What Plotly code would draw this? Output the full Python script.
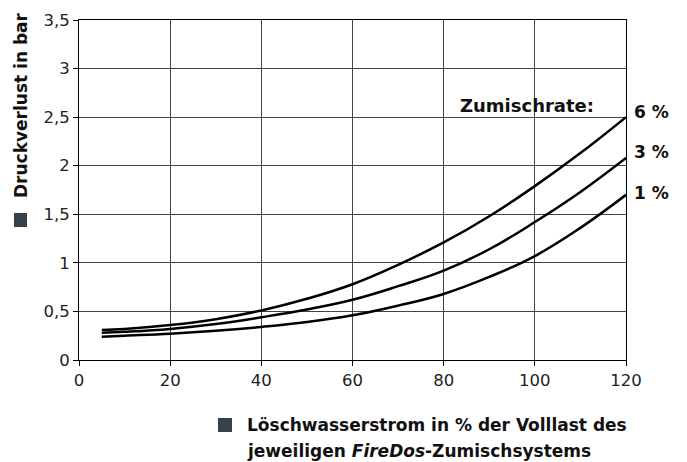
import plotly.graph_objects as go

# ---- data ----
x_flow = [5, 10, 20, 30, 40, 50, 60, 70, 80, 90, 100, 110, 120]
dp_6 = [0.31, 0.32, 0.36, 0.42, 0.51, 0.63, 0.78, 0.98, 1.21, 1.48, 1.79, 2.13, 2.50]
dp_3 = [0.28, 0.29, 0.32, 0.37, 0.44, 0.52, 0.62, 0.76, 0.92, 1.14, 1.42, 1.73, 2.08]
dp_1 = [0.24, 0.25, 0.27, 0.30, 0.34, 0.39, 0.46, 0.56, 0.68, 0.855, 1.07, 1.36, 1.70]
series_labels = ["6 %", "3 %", "1 %"]

x_ticks = [0, 20, 40, 60, 80, 100, 120]
y_ticks = [0, 0.5, 1, 1.5, 2, 2.5, 3, 3.5]
y_ticklabels = ["0", "0,5", "1", "1,5", "2", "2,5", "3", "3,5"]

legend_title = "Zumischrate:"
y_title = "Druckverlust in bar"
x_title_1 = "Löschwasserstrom in % der Volllast des"
x_title_2 = "jeweiligen <i>FireDos</i>-Zumischsystems"

# ---- layout geometry (page body has an 8px margin) ----
OFF = 8
W, H = 687 - OFF, 462 - OFF
# target plot area in window pixels: x 79..626, y 20..360
L, T = 79 - OFF, 20 - OFF
R = W - (626 - OFF)
B = H - (360 - OFF)
PW, PH = W - L - R, H - T - B
FONT = "DejaVu Sans"
SQ = "#36424a"

def px(xp):
    return (xp - OFF - L) / PW

def py(yp):
    return (T + PH - (yp - OFF)) / PH

fig = go.Figure()
for ys, lab in zip([dp_6, dp_3, dp_1], series_labels):
    fig.add_trace(go.Scatter(x=x_flow, y=ys, mode="lines", name=lab,
                             line=dict(color="black", width=2.5, shape="spline", smoothing=1.2),
                             hoverinfo="skip"))

axis_common = dict(showline=True, linecolor="black", linewidth=1, mirror=True,
                   showgrid=True, gridcolor="#444", gridwidth=1, zeroline=False,
                   ticks="outside", ticklen=5, tickcolor="black", ticklabeloverflow="allow",
                   automargin=False,
                   tickfont=dict(family=FONT, size=16.5, color="#222"))

fig.update_xaxes(range=[0, 120], tickvals=x_ticks, **axis_common)
fig.update_yaxes(range=[0, 3.5], tickvals=y_ticks, ticktext=y_ticklabels, **axis_common)

shapes = [
    dict(type="rect", xref="paper", yref="paper", x0=px(453), x1=px(599), y0=py(116), y1=py(89),
         fillcolor="white", line=dict(width=0), layer="between"),
    dict(type="rect", xref="paper", yref="paper", x0=px(14), x1=px(27), y0=py(227), y1=py(213),
         fillcolor=SQ, line=dict(width=0)),
    dict(type="rect", xref="paper", yref="paper", x0=px(218), x1=px(232), y0=py(432), y1=py(418),
         fillcolor=SQ, line=dict(width=0)),
]

bold = dict(family=FONT, size=17, color="#111", weight=700)
annotations = [
    dict(text=legend_title, xref="paper", yref="paper", x=px(527), y=py(105),
         xanchor="center", yanchor="middle", showarrow=False,
         font=dict(family=FONT, size=18, color="#111", weight=700)),
    dict(text=y_title, xref="paper", yref="paper", x=px(21), y=py(105),
         xanchor="center", yanchor="middle", textangle=-90, showarrow=False, font=bold),
    dict(text=x_title_1, xref="paper", yref="paper", x=px(245), y=py(425),
         xanchor="left", yanchor="middle", showarrow=False, font=bold),
    dict(text=x_title_2, xref="paper", yref="paper", x=px(245), y=py(451),
         xanchor="left", yanchor="middle", showarrow=False, font=bold),
]
label_px_y = [112, 152, 193]
for lab, yp in zip(series_labels, label_px_y):
    annotations.append(dict(text=lab, xref="paper", yref="paper", x=px(671), y=py(yp),
                            xanchor="right", yanchor="middle", showarrow=False,
                            font=dict(family=FONT, size=17, color="#111", weight=700)))

fig.update_layout(width=W, height=H, margin=dict(l=L, r=R, t=T, b=B),
                  plot_bgcolor="white", paper_bgcolor="white", showlegend=False,
                  shapes=shapes, annotations=annotations)

fig.write_html("out.html")
